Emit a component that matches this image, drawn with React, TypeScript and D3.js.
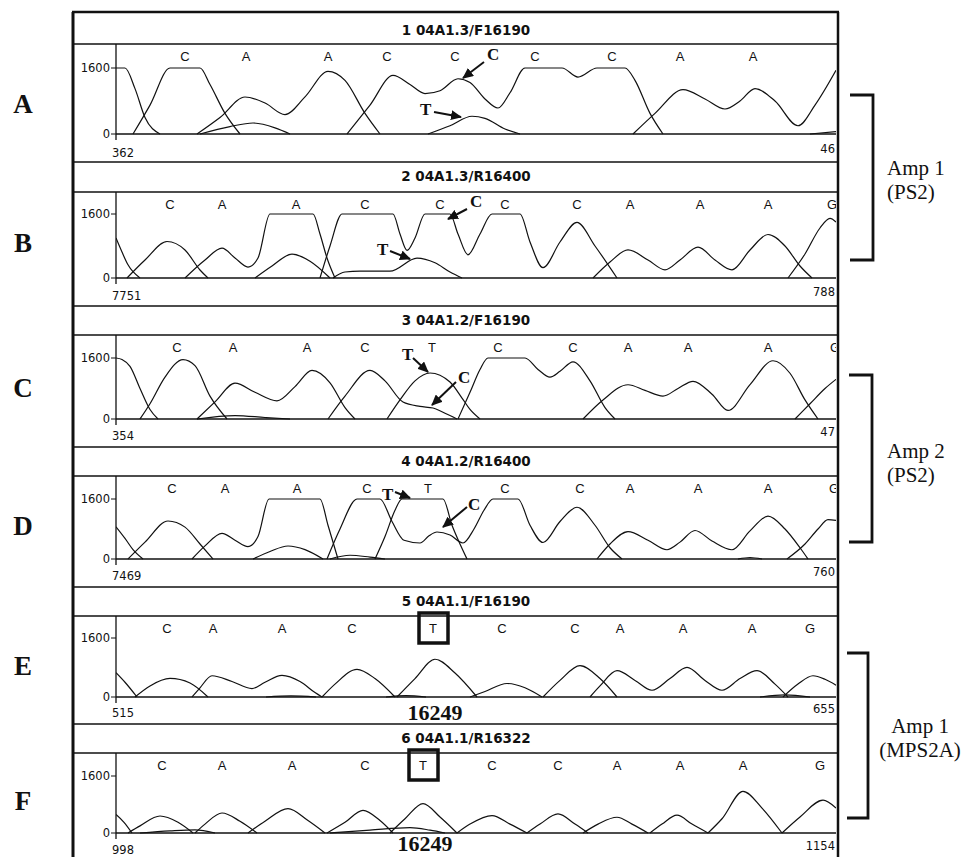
import * as d3 from 'd3'

// ---- data (x: scan offset 0..720, y: signal 0..1600+) ----
const panelTitles = [
  '1 04A1.3/F16190',
  '2 04A1.3/R16400',
  '3 04A1.2/F16190',
  '4 04A1.2/R16400',
  '5 04A1.1/F16190',
  '6 04A1.1/R16322',
]
const panelLetters = ['A', 'B', 'C', 'D', 'E', 'F']
const startScans = ['362', '7751', '354', '7469', '515', '998']
const endScans = ['46', '788', '47', '760', '655', '1154']
const yTicks = [0, 1600]

const callsA = ['C', 'A', 'A', 'C', 'C', 'C', 'C', 'A', 'A']
const callPosA = [69, 130, 212, 271, 339, 419, 496, 564, 637]
const callsB = ['C', 'A', 'A', 'C', 'C', 'C', 'C', 'A', 'A', 'A', 'G']
const callPosB = [54, 106, 180, 249, 324, 389, 461, 514, 584, 652, 716]
const callsC = ['C', 'A', 'A', 'C', 'T', 'C', 'C', 'A', 'A', 'A', 'G']
const callPosC = [61, 117, 191, 249, 316, 382, 457, 512, 572, 652, 719]
const callsD = ['C', 'A', 'A', 'C', 'T', 'C', 'C', 'A', 'A', 'A', 'G']
const callPosD = [56, 109, 181, 251, 312, 389, 464, 514, 582, 652, 718]
const callsE = ['C', 'A', 'A', 'C', 'T', 'C', 'C', 'A', 'A', 'A', 'G']
const callPosE = [51, 97, 166, 236, 317, 386, 459, 504, 567, 636, 694]
const callsF = ['C', 'A', 'A', 'C', 'T', 'C', 'C', 'A', 'A', 'A', 'G']
const callPosF = [46, 106, 176, 249, 307, 376, 442, 501, 564, 627, 704]

const tracesA = [
  [[0, 1600], [9, 1600], [19, 1100], [29, 400], [44, 0]],
  [[17, 0], [34, 700], [54, 1600], [84, 1600], [94, 1200], [109, 500], [124, 0]],
  [[81, 0], [104, 400], [129, 897], [149, 750], [169, 470], [189, 900], [212, 1520], [229, 1300], [249, 500], [264, 0]],
  [[231, 0], [254, 700], [277, 1420], [294, 1200], [309, 980], [324, 1050], [342, 1340], [354, 1250], [369, 850], [382, 630], [394, 1000], [409, 1600], [446, 1600], [462, 1380], [481, 1600], [509, 1600], [519, 1300], [534, 500], [547, 0]],
  [[84, 0], [114, 180], [137, 267], [159, 150], [174, 0]],
  [[312, 0], [334, 200], [356, 430], [369, 380], [389, 120], [404, 0]],
  [[517, 0], [539, 500], [567, 1075], [589, 850], [609, 606], [624, 800], [639, 1100], [659, 800], [682, 200], [699, 700], [720, 1543]],
  [[694, 0], [720, 60]],
]
const tracesB = [
  [[0, 1000], [6, 650], [12, 330], [24, 0]],
  [[11, 0], [29, 450], [51, 912], [69, 700], [84, 200], [92, 0]],
  [[69, 0], [89, 450], [106, 746], [119, 500], [132, 274], [142, 500], [154, 1600], [197, 1600], [204, 1100], [211, 500], [219, 0]],
  [[139, 0], [156, 300], [176, 597], [194, 420], [214, 0]],
  [[204, 0], [214, 800], [226, 1600], [277, 1600], [284, 1100], [291, 690], [299, 1000], [309, 1600], [334, 1600], [342, 1100], [352, 580], [364, 1100], [376, 1600], [404, 1600], [414, 900], [427, 257], [444, 900], [461, 1390], [479, 800], [501, 0]],
  [[217, 0], [229, 150], [244, 170], [274, 170], [301, 497], [319, 380], [334, 150], [346, 0]],
  [[477, 0], [494, 400], [512, 702], [532, 450], [549, 205], [564, 450], [582, 770], [599, 450], [616, 205], [634, 700], [652, 1087], [669, 800], [684, 300], [696, 0]],
  [[672, 0], [689, 600], [704, 1250], [714, 1490], [720, 1400]],
]
const tracesC = [
  [[0, 1600], [6, 1560], [14, 1380], [24, 800], [34, 250], [42, 0]],
  [[24, 0], [34, 400], [49, 1100], [67, 1556], [79, 1400], [94, 600], [111, 0]],
  [[81, 0], [99, 450], [119, 940], [139, 700], [161, 475], [179, 850], [196, 1275], [214, 950], [229, 300], [239, 0]],
  [[81, 0], [119, 90], [149, 40], [174, 0]],
  [[212, 0], [229, 600], [254, 1275], [269, 1000], [287, 446], [304, 330], [317, 288], [329, 150], [341, 0]],
  [[271, 0], [284, 500], [299, 1000], [314, 1207], [334, 970], [346, 550], [354, 250], [364, 0]],
  [[342, 0], [354, 700], [364, 1300], [372, 1600], [409, 1600], [422, 1300], [434, 1097], [444, 1250], [457, 1500], [474, 1000], [489, 300], [499, 0]],
  [[467, 0], [487, 500], [512, 899], [529, 750], [547, 602], [562, 800], [577, 989], [596, 650], [612, 225], [634, 900], [657, 1528], [674, 1200], [689, 500], [702, 0]],
  [[679, 0], [694, 400], [709, 800], [720, 1040]],
]
const tracesD = [
  [[0, 860], [9, 550], [17, 250], [27, 0]],
  [[12, 0], [29, 450], [52, 1013], [69, 850], [84, 400], [97, 0]],
  [[76, 0], [89, 350], [106, 685], [119, 500], [132, 330], [142, 600], [153, 1600], [204, 1600], [212, 900], [222, 0]],
  [[137, 0], [154, 200], [172, 347], [189, 250], [207, 0]],
  [[214, 0], [234, 100], [254, 50], [269, 0]],
  [[211, 0], [224, 800], [241, 1600], [264, 1600], [276, 1000], [288, 500], [304, 427], [313, 620], [321, 720], [334, 640], [347, 427], [358, 800], [368, 1300], [377, 1600], [402, 1600], [414, 900], [427, 440], [444, 1000], [461, 1380], [479, 900], [494, 300], [506, 0]],
  [[259, 0], [269, 600], [279, 1300], [286, 1600], [327, 1600], [336, 900], [344, 400], [351, 0]],
  [[481, 0], [494, 400], [512, 731], [532, 500], [551, 247], [564, 450], [579, 760], [596, 480], [616, 247], [634, 750], [652, 1143], [669, 800], [684, 300], [692, 0]],
  [[671, 0], [689, 400], [702, 800], [712, 1050], [720, 1030]],
  [[622, 0], [634, 40], [646, 0]],
]
const tracesE = [
  [[0, 660], [9, 400], [21, 0]],
  [[19, 0], [34, 300], [54, 503], [74, 380], [92, 0]],
  [[76, 0], [84, 250], [96, 576], [116, 420], [136, 229], [149, 400], [166, 585], [184, 420], [199, 120], [206, 0]],
  [[206, 0], [219, 350], [241, 750], [259, 500], [279, 0]],
  [[281, 0], [299, 500], [319, 1024], [339, 650], [361, 0]],
  [[354, 0], [369, 150], [391, 366], [409, 250], [426, 0]],
  [[427, 0], [444, 450], [464, 850], [484, 500], [501, 0]],
  [[474, 0], [484, 300], [501, 713], [519, 450], [536, 183], [554, 500], [571, 804], [589, 450], [606, 183], [624, 500], [641, 713], [659, 350], [672, 0]],
  [[667, 0], [682, 350], [697, 576], [709, 480], [720, 320]],
  [[644, 0], [669, 60], [694, 0]],
  [[150, 0], [175, 30], [200, 0]],
  [[270, 0], [290, 40], [310, 0]],
]
const tracesF = [
  [[0, 520], [8, 300], [16, 0]],
  [[12, 0], [24, 200], [44, 477], [62, 300], [77, 0]],
  [[79, 0], [89, 250], [106, 562], [124, 330], [141, 0]],
  [[132, 0], [149, 330], [172, 683], [192, 350], [209, 0]],
  [[211, 0], [229, 300], [247, 636], [264, 350], [277, 0]],
  [[274, 0], [289, 400], [307, 824], [324, 450], [341, 0]],
  [[341, 0], [354, 250], [376, 490], [394, 250], [411, 0]],
  [[411, 0], [424, 250], [442, 537], [459, 250], [472, 0]],
  [[467, 0], [482, 250], [501, 442], [516, 250], [532, 0]],
  [[534, 0], [546, 250], [561, 499], [576, 250], [592, 0]],
  [[592, 0], [606, 400], [627, 1169], [646, 700], [666, 0]],
  [[666, 0], [684, 450], [707, 922], [720, 700]],
  [[24, 0], [54, 60], [79, 90], [99, 0]],
  [[214, 0], [254, 80], [294, 150], [314, 80], [329, 0]],
]

// arrows pointing at the mixed peaks: text anchor, arrow tail, arrow tip
const notesA = [
  { text: 'C', tx: 371, tv: 1794, fx: 368, fv: 1745, px: 347, pv: 1357 },
  { text: 'T', tx: 304, tv: 460, fx: 318, fv: 533, px: 345, pv: 412 },
]
const notesB = [
  { text: 'C', tx: 354, tv: 1775, fx: 351, fv: 1725, px: 332, pv: 1475 },
  { text: 'T', tx: 261, tv: 575, fx: 274, fv: 675, px: 294, pv: 475 },
]
const notesC = [
  { text: 'T', tx: 286, tv: 1548, fx: 297, fv: 1600, px: 312, pv: 1233 },
  { text: 'C', tx: 342, tv: 944, fx: 340, fv: 970, px: 316, pv: 367 },
]
const notesD = [
  { text: 'T', tx: 266, tv: 1573, fx: 279, fv: 1787, px: 294, pv: 1627 },
  { text: 'C', tx: 352, tv: 1307, fx: 351, fv: 1387, px: 327, pv: 853 },
]

const boxedCall = [-1, -1, -1, -1, 4, 4]
const positionLabel = '16249'

const ampGroups = [
  { lines: ['Amp 1', '(PS2)'], from: 0, to: 1 },
  { lines: ['Amp 2', '(PS2)'], from: 2, to: 3 },
  { lines: ['Amp 1', '(MPS2A)'], from: 4, to: 5 },
]

const panelTraces = [tracesA, tracesB, tracesC, tracesD, tracesE, tracesF]
const panelCalls = [callsA, callsB, callsC, callsD, callsE, callsF]
const panelCallPos = [callPosA, callPosB, callPosC, callPosD, callPosE, callPosF]
const panelNotes = [notesA, notesB, notesC, notesD, [], []]

// ---- layout ----
const W = 967
const H = 857
const FRAME_L = 73
const FRAME_R = 838
const FRAME_T = 12
const X0 = 116
const X1 = 836
const TITLE_X = 466

const layout = [
  { top: 12, titleBase: 35, line: 44, y1600: 68, y0: 134, labelBase: 157 },
  { top: 162, titleBase: 181, line: 192, y1600: 214, y0: 278, labelBase: 300 },
  { top: 306, titleBase: 325, line: 335, y1600: 358, y0: 419, labelBase: 440 },
  { top: 447, titleBase: 466, line: 476, y1600: 499, y0: 559, labelBase: 580 },
  { top: 587, titleBase: 606, line: 616, y1600: 638, y0: 697, labelBase: 717 },
  { top: 724, titleBase: 743, line: 753, y1600: 776, y0: 833, labelBase: 854 },
]
const letterBase = [113, 252, 397, 535, 675, 810]
const posLabelBase = [0, 0, 0, 0, 720, 851]
const bracketSpan = [
  { top: 95, bottom: 260, x0: 850, x1: 873, textX: 887, textBase: 175, anchor: 'start' },
  { top: 375, bottom: 542, x0: 849, x1: 872, textX: 887, textBase: 458, anchor: 'start' },
  { top: 653, bottom: 818, x0: 847, x1: 868, textX: 920, textBase: 733, anchor: 'middle' },
]

const SANS = 'DejaVu Sans, sans-serif'
const CALL_FONT = 'Liberation Sans, Arial, sans-serif'
const SERIF = 'Liberation Serif, Times New Roman, serif'
const INK = '#111'

type Pt = number[]

function Panel({ i }: { i: number }) {
  const L = layout[i]
  const x = d3.scaleLinear().domain([0, 720]).range([X0, X1])
  const y = d3.scaleLinear().domain([0, 1600]).range([L.y0, L.y1600])
  const line = d3
    .line<Pt>()
    .x(d => x(d[0]))
    .y(d => y(d[1]))
    .curve(d3.curveMonotoneX)
  const clipId = `clip-${i}`
  const calls = panelCalls[i]
  const callPos = panelCallPos[i]
  const callBase = L.line + 17
  const boxed = boxedCall[i]

  return (
    <g>
      <defs>
        <clipPath id={clipId}>
          <rect x={X0} y={L.line + 1} width={X1 - X0} height={L.labelBase - L.line + 4} />
        </clipPath>
      </defs>

      {/* title band */}
      {i > 0 && <line x1={FRAME_L} x2={FRAME_R} y1={L.top} y2={L.top} stroke={INK} strokeWidth={1.6} />}
      <text x={TITLE_X} y={L.titleBase} textAnchor="middle" fontFamily={SANS} fontWeight="bold" fontSize={13.5} fill={INK}>
        {panelTitles[i]}
      </text>
      <line x1={FRAME_L} x2={FRAME_R} y1={L.line} y2={L.line} stroke={INK} strokeWidth={1.4} />

      {/* y axis */}
      <line x1={X0} x2={X0} y1={L.line} y2={L.y0 + 6} stroke={INK} strokeWidth={1.3} />
      {yTicks.map(t => (
        <g key={t}>
          <line x1={X0 - 5} x2={X0} y1={y(t)} y2={y(t)} stroke={INK} strokeWidth={1} />
          <text x={X0 - 6} y={y(t) + 4} textAnchor="end" fontFamily={SANS} fontSize={11.5} fill={INK}>
            {t}
          </text>
        </g>
      ))}
      <line x1={X0} x2={X1} y1={L.y0} y2={L.y0} stroke={INK} strokeWidth={1.4} />

      {/* scan range */}
      <text x={X0 - 4} y={L.labelBase} fontFamily={SANS} fontSize={11.5} fill={INK}>
        {startScans[i]}
      </text>
      <text x={X1 - 1} y={L.labelBase - 4} textAnchor="end" fontFamily={SANS} fontSize={11.5} fill={INK}>
        {endScans[i]}
      </text>

      {/* traces */}
      <g clipPath={`url(#${clipId})`}>
        {panelTraces[i].map((tr, k) => (
          <path key={k} d={line(tr as Pt[]) ?? ''} fill="none" stroke={INK} strokeWidth={1.2} strokeLinejoin="round" />
        ))}
      </g>

      {/* base calls */}
      <g clipPath={`url(#${clipId})`}>
        {calls.map((c, k) => (
          <text key={k} x={x(callPos[k])} y={callBase} textAnchor="middle" fontFamily={CALL_FONT} fontSize={13} fill={INK}>
            {c}
          </text>
        ))}
      </g>
      {boxed >= 0 && (
        <g>
          <rect
            x={x(callPos[boxed]) - 14}
            y={callBase - 20}
            width={29}
            height={30}
            fill="none"
            stroke={INK}
            strokeWidth={3.5}
          />
          <text
            x={x(callPos[boxed]) + 2}
            y={posLabelBase[i]}
            textAnchor="middle"
            fontFamily={SERIF}
            fontWeight="bold"
            fontSize={22}
            fill={INK}
          >
            {positionLabel}
          </text>
        </g>
      )}

      {/* heterozygous peak arrows */}
      {panelNotes[i].map((n, k) => (
        <g key={k}>
          <line
            x1={x(n.fx)}
            y1={y(n.fv)}
            x2={x(n.px)}
            y2={y(n.pv)}
            stroke={INK}
            strokeWidth={2}
            markerEnd="url(#arrowhead)"
          />
          <text x={x(n.tx)} y={y(n.tv)} fontFamily={SERIF} fontWeight="bold" fontSize={17} fill={INK}>
            {n.text}
          </text>
        </g>
      ))}

      {/* panel letter */}
      <text x={23} y={letterBase[i]} textAnchor="middle" fontFamily={SERIF} fontWeight="bold" fontSize={27} fill={INK}>
        {panelLetters[i]}
      </text>
    </g>
  )
}

export default function App() {
  return (
    <svg
      width={W}
      height={H}
      viewBox={`0 0 ${W} ${H}`}
      style={{ position: 'absolute', left: 0, top: 0, background: '#fff', display: 'block' }}
    >
      <defs>
        <marker
          id="arrowhead"
          markerUnits="userSpaceOnUse"
          markerWidth={12}
          markerHeight={10}
          refX={10}
          refY={5}
          orient="auto"
        >
          <path d="M0,0 L11,5 L0,10 Z" fill={INK} />
        </marker>
      </defs>
      <rect width={W} height={H} fill="#fff" />

      {layout.map((_, i) => (
        <Panel key={i} i={i} />
      ))}

      {/* outer frame */}
      <line x1={FRAME_L - 1} x2={FRAME_R + 1} y1={FRAME_T} y2={FRAME_T} stroke={INK} strokeWidth={2.5} />
      <line x1={FRAME_L} x2={FRAME_L} y1={FRAME_T} y2={H} stroke={INK} strokeWidth={3} />
      <line x1={FRAME_R} x2={FRAME_R} y1={FRAME_T} y2={H} stroke={INK} strokeWidth={2.5} />

      {/* amplicon brackets */}
      {ampGroups.map((g, k) => {
        const b = bracketSpan[k]
        return (
          <g key={k}>
            <path
              d={`M${b.x0},${b.top} H${b.x1} V${b.bottom} H${b.x0}`}
              fill="none"
              stroke={INK}
              strokeWidth={2.8}
            />
            {g.lines.map((t, j) => (
              <text
                key={j}
                x={b.textX}
                y={b.textBase + j * 24}
                textAnchor={b.anchor}
                fontFamily={SERIF}
                fontSize={21}
                fill={INK}
              >
                {t}
              </text>
            ))}
          </g>
        )
      })}
    </svg>
  )
}
